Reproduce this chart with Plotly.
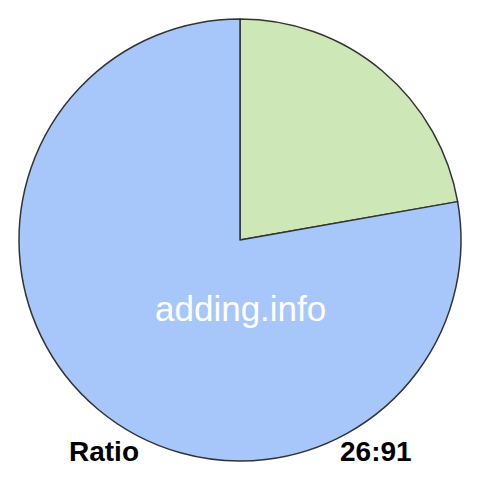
import plotly.graph_objects as go

labels = ['First', 'Second']
values = [26, 91]
colours = ['#cde7b6', '#a7c7fb']
ratio_label = 'Ratio'
ratio_text = '26:91'
watermark = 'adding.info'

fig = go.Figure()
fig.add_trace(go.Pie(labels=labels, values=values, sort=False, direction='clockwise', rotation=0,
                     marker=dict(colors=colours, line=dict(color='#333333', width=1.5)),
                     textinfo='none', hoverinfo='label+value', showlegend=False,
                     domain=dict(x=[19 / 480, 461 / 480], y=[19 / 480, 461 / 480])))

fig.add_annotation(x=240 / 480, y=1 - 308 / 480, xref='paper', yref='paper', text=watermark, showarrow=False,
                   xanchor='center', yanchor='middle',
                   font=dict(family='Liberation Sans, Arial', size=35, color='#ffffff'))
fig.add_annotation(x=104 / 480, y=1 - 451 / 480, xref='paper', yref='paper', text='<b>%s</b>' % ratio_label,
                   showarrow=False, xanchor='center', yanchor='middle',
                   font=dict(family='Liberation Sans, Arial', size=28, color='#000000'))
fig.add_annotation(x=376 / 480, y=1 - 451 / 480, xref='paper', yref='paper', text='<b>%s</b>' % ratio_text,
                   showarrow=False, xanchor='center', yanchor='middle',
                   font=dict(family='Liberation Sans, Arial', size=28, color='#000000'))

fig.update_layout(width=480, height=480, margin=dict(l=0, r=0, t=0, b=0),
                  paper_bgcolor='#ffffff', plot_bgcolor='#ffffff')
fig.write_html("out.html", config={'displayModeBar': False},
               post_script="document.body.style.margin = '0';")
